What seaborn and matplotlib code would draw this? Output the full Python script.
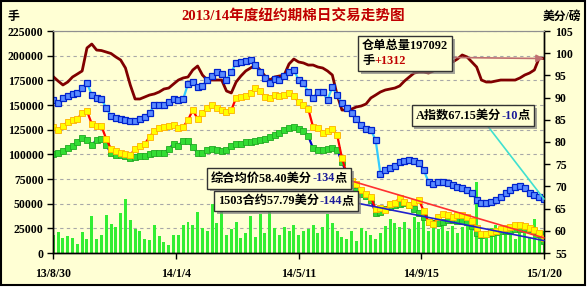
import numpy as np
import pandas as pd
import matplotlib
matplotlib.use("Agg")
import matplotlib.pyplot as plt
import matplotlib.dates as mdates
import matplotlib.patheffects as pe
from matplotlib.offsetbox import TextArea, HPacker, VPacker, AnnotationBbox
from matplotlib.patches import Rectangle
import seaborn as sns

# ---------------- data ----------------
title = "2013/14年度纽约期棉日交易走势图"
left_unit = "手"
right_unit = "美分/磅"
start_date, end_date = "2013-08-30", "2015-01-20"
n_points = 103
tick_dates = ["2013-08-30", "2014-01-04", "2014-05-11", "2014-09-15", "2015-01-20"]
tick_labels = ["13/8/30", "14/1/4", "14/5/11", "14/9/15", "15/1/20"]
left_ticks = [0, 25000, 50000, 75000, 100000, 125000, 150000, 175000, 200000, 225000]
right_ticks = [55, 60, 65, 70, 75, 80, 85, 90, 95, 100, 105]

# 仓单总量 (手) - left axis
warehouse = [
    178700, 174300, 170300, 173300, 178400, 181400, 184500, 207800, 211800, 205700,
    205200, 203700, 202200, 198700, 195600, 187500, 170300, 156100, 156100, 158100,
    160100, 161200, 163200, 166200, 167200, 171300, 175300, 177400, 178400, 185500,
    189500, 180400, 175300, 175300, 175300, 175300, 164200, 162200, 173300, 179400,
    184500, 187500, 190500, 185500, 179400, 175300, 178400, 179400, 180400, 191600,
    196600, 193600, 192600, 190500, 190500, 188500, 187500, 184500, 180400, 160100,
    144900, 144900, 145900, 148000, 149000, 151000, 157100, 160100, 163200, 165200,
    166200, 167200, 169300, 174300, 178400, 182400, 183400, 183400, 182400, 184500,
    187500, 189500, 191600, 193600, 196600, 200700, 198700, 193600, 188500, 175300,
    173300, 173300, 174300, 175300, 175300, 175300, 175300, 177400, 180400, 182400,
    185500, 197600, 197092]

# 成交量 (手) - left axis
volume = [
    18400, 21000, 15100, 17100, 15100, 9500, 21000, 14500, 38000, 14500,
    17800, 39000, 29000, 26600, 40800, 55000, 33000, 24300, 22700, 14500,
    12800, 28300, 17100, 11200, 7900, 17800, 18400, 28300, 31600, 28300,
    41500, 25000, 22000, 50000, 30000, 48000, 18000, 24000, 31000, 15000,
    20000, 38000, 16000, 40000, 20000, 47000, 25000, 18000, 26000, 22000,
    28000, 18000, 22000, 24000, 28000, 20000, 26000, 40000, 30000, 22000,
    16000, 14000, 22000, 12000, 25000, 22000, 18000, 14000, 20000, 27000,
    34000, 30000, 26000, 31000, 24000, 36000, 31000, 36000, 22000, 33000,
    24000, 28000, 22000, 27000, 20000, 26000, 30000, 28000, 72000, 18000,
    22000, 25000, 28000, 18000, 22000, 26000, 14000, 20000, 22000, 16000,
    34000, 20000, 22000]

# A指数 (美分/磅) - right axis
a_index = [
    89.46, 88.79, 89.80, 90.36, 90.81, 91.04, 92.16, 93.29, 90.59, 89.91,
    89.69, 87.66, 85.86, 85.41, 85.18, 84.96, 84.84, 84.62, 85.18, 85.63,
    86.53, 88.34, 88.34, 88.34, 89.01, 89.69, 89.46, 89.69, 93.06, 93.51,
    92.39, 92.61, 93.97, 94.87, 95.77, 95.32, 93.97, 95.77, 97.79, 98.02,
    98.24, 98.47, 97.34, 95.77, 94.42, 93.29, 94.19, 93.97, 94.87, 95.77,
    96.22, 93.97, 93.29, 91.26, 89.91, 91.26, 91.26, 89.46, 92.39, 90.59,
    88.79, 87.66, 86.53, 85.18, 83.83, 82.93, 82.71, 80.45, 72.80, 73.70,
    74.15, 74.60, 75.50, 75.72, 75.95, 75.72, 75.27, 73.70, 70.99, 70.54,
    70.99, 70.99, 70.77, 70.32, 69.87, 69.64, 69.19, 68.52, 66.94, 66.27,
    66.27, 66.49, 66.94, 67.62, 68.52, 69.19, 69.87, 70.09, 69.64, 68.52,
    68.07, 67.62, 67.15]

# 综合均价 (美分/磅) - right axis
avg_price = [
    83.38, 82.71, 83.61, 84.51, 84.96, 85.18, 86.53, 86.98, 84.06, 83.61,
    83.61, 80.68, 78.43, 77.98, 77.53, 77.30, 77.08, 78.43, 79.10, 79.55,
    81.13, 82.48, 83.16, 83.38, 83.61, 83.83, 83.16, 83.38, 84.96, 87.21,
    85.18, 86.53, 87.66, 88.34, 87.66, 87.21, 86.76, 87.21, 89.91, 90.14,
    90.36, 91.04, 92.16, 91.49, 90.14, 89.91, 90.59, 90.36, 90.59, 91.04,
    90.36, 89.01, 88.34, 87.43, 83.38, 83.16, 82.03, 82.48, 82.93, 81.58,
    76.40, 72.80, 71.22, 70.54, 69.19, 68.29, 67.62, 64.91, 65.14, 64.69,
    66.04, 66.27, 67.39, 66.49, 65.82, 66.49, 66.94, 64.46, 61.99, 61.54,
    63.11, 63.79, 63.56, 63.11, 63.56, 63.56, 63.11, 62.21, 60.64, 59.28,
    59.28, 59.73, 59.96, 60.41, 60.64, 60.86, 61.31, 61.31, 61.09, 60.64,
    60.19, 59.51, 58.40]

# 1503合约 (美分/磅) - right axis
c1503 = [
    77.30, 77.41, 77.98, 78.65, 79.21, 80.00, 80.90, 80.45, 79.33, 80.45,
    80.68, 79.33, 77.41, 77.08, 76.96, 76.74, 76.40, 76.62, 76.74, 76.85,
    77.30, 77.53, 77.53, 77.53, 78.43, 79.55, 79.21, 80.23, 80.23, 78.88,
    77.53, 77.53, 78.20, 78.43, 78.20, 77.98, 78.20, 79.10, 79.44, 79.66,
    79.89, 80.00, 80.23, 80.45, 80.68, 81.02, 81.58, 82.03, 82.71, 83.16,
    83.38, 82.93, 82.48, 81.35, 78.54, 78.20, 78.31, 78.43, 78.54, 78.20,
    75.50, 72.80, 70.32, 68.97, 68.29, 67.84, 66.94, 64.01, 64.24, 64.91,
    65.36, 65.70, 65.93, 66.15, 65.82, 64.91, 64.01, 63.11, 61.99, 61.76,
    61.76, 61.99, 62.32, 62.44, 62.21, 62.21, 61.99, 61.09, 59.51, 59.06,
    59.17, 59.51, 59.73, 59.85, 59.96, 60.19, 60.30, 60.41, 60.52, 60.30,
    59.96, 59.28, 57.79]

label_warehouse = [("仓单总量197092", "black"), ("手", "black"), ("+1312", "#C00000")]
label_a = [("A指数67.15美分", "black"), ("-10", "#1A1A99"), ("点", "black")]
label_avg = [("综合均价58.40美分", "black"), ("-134", "#1A1A99"), ("点", "black")]
label_1503 = [("1503合约57.79美分", "black"), ("-144", "#1A1A99"), ("点", "black")]

# ---------------- style ----------------
BG = "#FFFFD4"
FAM = ["Liberation Serif", "Noto Sans CJK SC"]
plt.rcParams["font.family"] = FAM
plt.rcParams["font.weight"] = "bold"

dates = pd.date_range(start_date, end_date, periods=n_points)
df = pd.DataFrame({"date": dates, "warehouse": warehouse, "volume": volume,
                   "a_index": a_index, "avg": avg_price, "c1503": c1503})

W, H, DPI = 587, 288, 100
fig = plt.figure(figsize=(W / DPI, H / DPI), dpi=DPI, facecolor="white")
frame = Rectangle((0.5 / W, 3.0 / H), 584.5 / W, 284.0 / H, transform=fig.transFigure,
                  facecolor=BG, edgecolor="black", linewidth=1.5, zorder=-5)
fig.patches.append(frame)

ax = fig.add_axes([53.3 / W, (H - 253) / H, (544 - 53.3) / W, 222 / H])
ax.set_facecolor(BG)
ax2 = ax.twinx()

# volume bars
ax.bar(df["date"], df["volume"], width=3.1, color="#33EE33", edgecolor="none", zorder=2)
# warehouse stock line
sns.lineplot(data=df, x="date", y="warehouse", ax=ax, color="#800000", linewidth=2.0,
             zorder=3)

ax.set_ylim(0, 225000)
ax.set_yticks(left_ticks)
ax.set_yticklabels([str(v) for v in left_ticks])
ax.yaxis.grid(True, linestyle=(0, (3, 3)), color="#A8A8A8", linewidth=0.8)
ax.set_axisbelow(True)
ax.set_xlim(pd.Timestamp(start_date), pd.Timestamp(end_date))
ax.set_xticks(pd.to_datetime(tick_dates))
ax.set_xticklabels(tick_labels)
ax.set_xlabel("")
ax.set_ylabel("")

# price series on right axis
sns.lineplot(data=df, x="date", y="c1503", ax=ax2, color="#0000CC", linewidth=1.6,
             marker="s", markersize=4.2, markerfacecolor="#33DD33",
             markeredgecolor="#22AA22", markeredgewidth=0.6)
sns.lineplot(data=df, x="date", y="avg", ax=ax2, color="#FF0000", linewidth=1.6,
             marker="s", markersize=4.2, markerfacecolor="#FFFF00",
             markeredgecolor="#FFB000", markeredgewidth=0.6)
sns.lineplot(data=df, x="date", y="a_index", ax=ax2, color="#33CCFF", linewidth=1.6,
             marker="s", markersize=4.2, markerfacecolor="#5A8CFF",
             markeredgecolor="#0022CC", markeredgewidth=0.9)
ax2.set_ylim(55, 105)
ax2.set_yticks(right_ticks)
ax2.set_yticklabels([str(v) for v in right_ticks])
ax2.set_ylabel("")
ax2.set_xlabel("")
ax2.set_xlim(pd.Timestamp(start_date), pd.Timestamp(end_date))

# spines / ticks
for a in (ax, ax2):
    for s in ("left", "right", "bottom"):
        a.spines[s].set_color("black")
        a.spines[s].set_linewidth(1.0)
    a.spines["top"].set_color("#909090")
    a.spines["top"].set_linewidth(0.8)
ax.tick_params(axis="y", direction="out", length=4, width=1, pad=3, labelsize=8.5)
ax.tick_params(axis="x", direction="out", length=4, width=1, pad=7, labelsize=8.5)
ax2.tick_params(axis="y", direction="out", length=4, width=1, pad=4, labelsize=8.5)
for lab in ax.get_xticklabels() + ax.get_yticklabels() + ax2.get_yticklabels():
    lab.set_fontweight("bold")

# titles
fig.text(0.5, 1 - 17 / H, title, ha="center", va="center", color="#C00000",
         fontsize=10.5, fontweight="bold")
fig.text(7 / W, 1 - 17 / H, left_unit, ha="left", va="center", fontsize=8.5,
         fontweight="bold")
fig.text(581 / W, 1 - 17 / H, right_unit, ha="right", va="center", fontsize=8.5,
         fontweight="bold")


# annotation boxes
def row(parts):
    areas = [TextArea(t, textprops=dict(color=c, fontsize=8.8, fontweight="bold",
                                        family=FAM)) for t, c in parts]
    return HPacker(children=areas, align="baseline", pad=0, sep=0)


def add_box(packer, xy, xycoords, xybox, color, relpos, style="-"):
    ab = AnnotationBbox(packer, xy, xycoords=xycoords, xybox=xybox,
                        boxcoords="axes fraction", box_alignment=(0.5, 0.5),
                        frameon=True, pad=0.3,
                        bboxprops=dict(boxstyle="square,pad=0.3", facecolor=BG,
                                       edgecolor="#333333", linewidth=1.0),
                        arrowprops=dict(arrowstyle=style, color=color, lw=1.2,
                                        shrinkA=0, shrinkB=0, relpos=relpos,
                                        mutation_scale=8),
                        zorder=10, annotation_clip=False)
    ab.patch.set_path_effects([pe.SimplePatchShadow(offset=(2, -2),
                                                    shadow_rgbFace="#808080",
                                                    alpha=0.7), pe.Normal()])
    ax2.add_artist(ab)
    return ab


last = mdates.date2num(df["date"].iloc[-1])
wh_box = VPacker(children=[row(label_warehouse[:1]), row(label_warehouse[1:])],
                 align="left", pad=0, sep=2)
add_box(wh_box, (last, warehouse[-1]), ax.transData, (0.717, 0.899), "#C07070",
        (1, 0.35), style="-|>")
add_box(row(label_a), (last, a_index[-1]), "data", (0.855, 0.619), "#40E0D0", (0.6, 0))
add_box(row(label_avg), (last, avg_price[-1]), "data", (0.460, 0.336), "#FF3030", (1, 0.4))
add_box(row(label_1503), (last, c1503[-1]), "data", (0.474, 0.233), "#2020CC", (1, 0.4))

fig.savefig("out.png", dpi=DPI, facecolor="white")
